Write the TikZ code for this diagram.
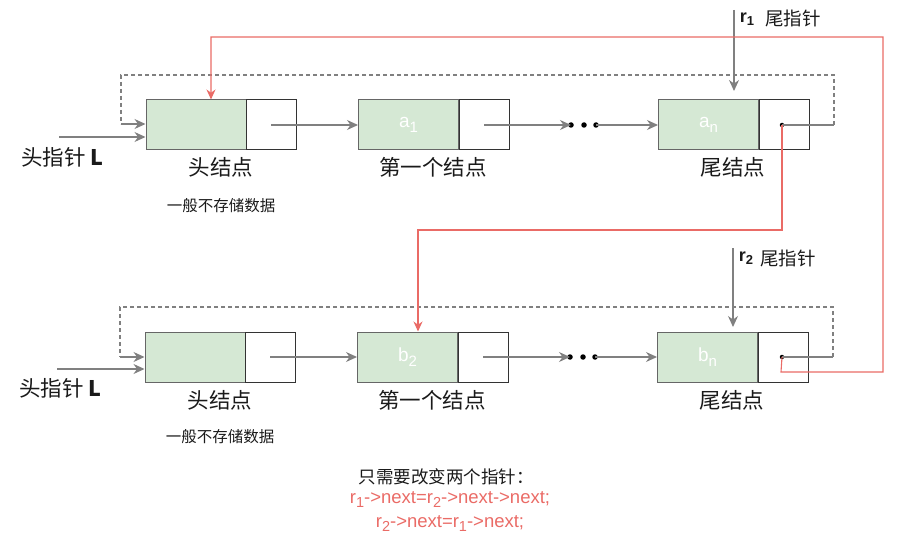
\documentclass[tikz,border=0pt]{standalone}
\usepackage{fontspec}
\setmainfont{Liberation Sans}
\newfontfamily\cjk{Noto Sans CJK SC}
\usetikzlibrary{arrows.meta}
\definecolor{gfill}{HTML}{D5E8D4}
\definecolor{gline}{HTML}{666666}
\definecolor{arr}{HTML}{808080}
\definecolor{redl}{HTML}{EA6B66}
\definecolor{txt}{HTML}{1A1A1A}
\newcommand{\sbx}[1]{\raisebox{-4.5pt}{\fontsize{15}{15}\selectfont #1}}
\newcommand{\sbr}[1]{\raisebox{-4pt}{\fontsize{14.5}{15}\selectfont #1}}
\newcommand{\sbb}[1]{\raisebox{-3.5pt}{\fontsize{13}{13}\selectfont #1}}
\tikzset{
  databox/.style={draw=gline, fill=gfill, line width=1pt, minimum width=100pt, minimum height=50pt, inner sep=0pt, text=white, font=\fontsize{19}{21}\selectfont},
  ptrbox/.style={draw=black!80, fill=white, line width=1pt, minimum width=50pt, minimum height=50pt, inner sep=0pt},
  garrow/.style={draw=arr, line width=1.1pt, -{Stealth[length=11pt,width=10pt]}},
  gline/.style={draw=arr, line width=1.1pt},
  dline/.style={draw=arr, line width=1.1pt, dash pattern=on 4pt off 3pt},
  rarrow/.style={draw=redl, line width=1.1pt, -{Stealth[length=10pt,width=9pt]}},
  lbl/.style={inner sep=0pt, text=txt, font=\cjk\fontsize{21.5}{24}\selectfont},
  small/.style={inner sep=0pt, text=txt, font=\cjk\fontsize{15.5}{18}\selectfont},
  dotn/.style={circle, fill=black, inner sep=0pt, minimum size=5.5pt},
}
\begin{document}
\begin{tikzpicture}[x=1pt,y=-1pt]
\useasboundingbox (0,0) rectangle (901,556);
% ---------- top row ----------
\node[databox] (h1) at (196,125) {};
\node[ptrbox] (h1p) at (271,125) {};
\node[databox] (a1) at (408.5,125) {a\sbx{1}};
\node[ptrbox] (a1p) at (484,125) {};
\node[databox] (an) at (708.5,125) {a\sbx{n}};
\node[ptrbox] (anp) at (784,125) {};
\node[dotn] (d1) at (571,125) {};
\node[dotn] (d2) at (584,125) {};
\node[dotn] (d3) at (596,125) {};
\node[dotn,minimum size=4.5pt] (anpt) at (782,125) {};
\coordinate (h1pc) at (271,125);
\coordinate (a1pc) at (484,125);
\draw[garrow] (h1pc) -- (a1.west);
\draw[garrow] (a1pc) -- (d1.center);
\draw[garrow] (d3.center) -- (an.west);
\coordinate (tl1) at (59,137);
\draw[garrow] (tl1) -- (h1.west |- tl1);
\coordinate (tr1) at (834,125);
\coordinate (tr1b) at (834,75);
\coordinate (tl1b) at (121,75);
\coordinate (tl1c) at (121,124);
\draw[gline] (anpt.center) -- (tr1);
\draw[dline] (tr1) -- (tr1b) -- (tl1b) -- (tl1c);
\draw[garrow] (tl1c) -- (h1.west |- tl1c);
\coordinate (r1s) at (734,10);
\draw[garrow] (r1s) -- (734,91);
\node[inner sep=0pt, text=txt, font=\bfseries\fontsize{18}{20}\selectfont] (r1) at (747,19) {r\sbb{1}};
\node[lbl, font=\cjk\fontsize{18.5}{21}\selectfont] (r1t) at (793,18) {尾指针};
\node[lbl] (lab1) at (221,167) {头结点};
\node[small] (s1) at (221,206) {一般不存储数据};
\node[lbl] (lab2) at (433,167) {第一个结点};
\node[lbl] (lab3) at (733,167) {尾结点};
\node[lbl, anchor=west] (L1) at (21,157) {头指针 \textbf{L}};
% ---------- bottom row ----------
\node[databox] (h2) at (195,357) {};
\node[ptrbox] (h2p) at (270,357) {};
\node[databox] (b2) at (407.5,357) {b\sbx{2}};
\node[ptrbox] (b2p) at (483,357) {};
\node[databox] (bn) at (707.5,357) {b\sbx{n}};
\node[ptrbox] (bnp) at (783,357) {};
\node[dotn] (e1) at (570,357) {};
\node[dotn] (e2) at (583,357) {};
\node[dotn] (e3) at (595,357) {};
\node[dotn,minimum size=4.5pt] (bnpt) at (782,357) {};
\coordinate (h2pc) at (270,357);
\coordinate (b2pc) at (483,357);
\draw[garrow] (h2pc) -- (b2.west);
\draw[garrow] (b2pc) -- (e1.center);
\draw[garrow] (e3.center) -- (bn.west);
\coordinate (tl2) at (57,369);
\draw[garrow] (tl2) -- (h2.west |- tl2);
\coordinate (tr2) at (833,357);
\coordinate (tr2b) at (833,307);
\coordinate (tl2b) at (120,307);
\coordinate (tl2c) at (120,357);
\draw[gline] (bnpt.center) -- (tr2);
\draw[dline] (tr2) -- (tr2b) -- (tl2b) -- (tl2c);
\draw[garrow] (tl2c) -- (h2.west |- tl2c);
\coordinate (r2s) at (733,248);
\draw[garrow] (r2s) -- (733,327);
\node[inner sep=0pt, text=txt, font=\bfseries\fontsize{18}{20}\selectfont] (r2) at (746,258) {r\sbb{2}};
\node[lbl, font=\cjk\fontsize{18.5}{21}\selectfont] (r2t) at (788,258) {尾指针};
\node[lbl] (lab4) at (220,400) {头结点};
\node[small] (s2) at (220,437) {一般不存储数据};
\node[lbl] (lab5) at (432,400) {第一个结点};
\node[lbl] (lab6) at (732,400) {尾结点};
\node[lbl, anchor=west] (L2) at (19,388) {头指针 \textbf{L}};
% ---------- red pointers ----------
\coordinate (ra) at (782,230);
\coordinate (rb) at (418,230);
\draw[rarrow] (anpt.center) -- (ra) -- (rb) -- (b2.north -| rb);
\coordinate (rc) at (781,372);
\coordinate (rd) at (883,372);
\coordinate (re) at (883,37);
\coordinate (rf) at (211,37);
\draw[rarrow] (bnpt.center) -- (rc) -- (rd) -- (re) -- (rf) -- (h1.north -| rf);
% ---------- bottom text ----------
\node[inner sep=0pt, text=txt, font=\cjk\fontsize{17.5}{20}\selectfont] (t1) at (446,477) {只需要改变两个指针：};
\node[inner sep=0pt, text=redl, font=\fontsize{18.5}{20}\selectfont] (t2) at (450,500) {r\sbr{1}->next=r\sbr{2}->next->next;};
\node[inner sep=0pt, text=redl, font=\fontsize{18.5}{20}\selectfont] (t3) at (450,524) {r\sbr{2}->next=r\sbr{1}->next;};
\end{tikzpicture}
\end{document}
